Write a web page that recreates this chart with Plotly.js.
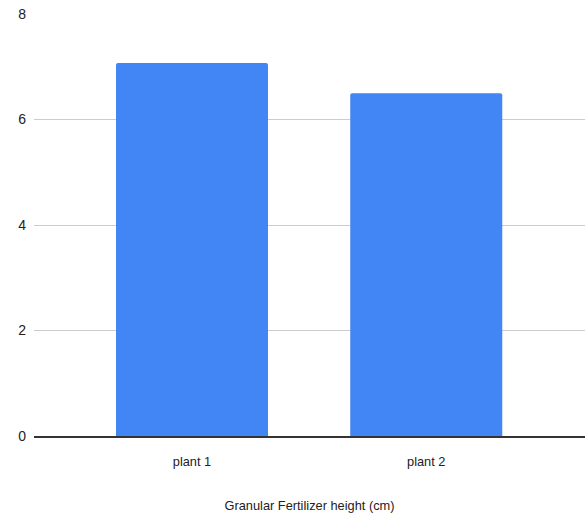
<!DOCTYPE html>
<html><head><meta charset="utf-8">
<script src="https://cdn.plot.ly/plotly-3.0.1.min.js"></script>
<style>html,body{margin:0;padding:0;background:#fff}#chart{width:585px;height:521px}</style>
</head><body><div id="chart"></div>
<script>
const categories = ["plant 1", "plant 2"];
const heights = [7.07, 6.5];
const yTicks = [0, 2, 4, 6, 8];
const xTitle = "Granular Fertilizer height (cm)";

const fontFam = '"Liberation Sans Narrow", "Arial Narrow", "Liberation Sans", Arial, sans-serif';

Plotly.newPlot('chart', [{
  type: 'bar',
  x: [0, 1],
  y: heights,
  width: 0.649,
  marker: {color: '#4285F4', cornerradius: 2},
  hoverinfo: 'none'
}], {
  width: 585, height: 521,
  margin: {l: 34, r: 0, t: 14, b: 85},
  paper_bgcolor: '#fff', plot_bgcolor: '#fff',
  showlegend: false,
  font: {family: fontFam, size: 13, color: '#222'},
  xaxis: {
    range: [-0.6745, 1.6777],
    tickmode: 'array', tickvals: [0, 1], ticktext: categories,
    showgrid: false, zeroline: false,
    showline: true, linecolor: '#333', linewidth: 1.5,
    ticks: '', ticklabelstandoff: 13,
    tickfont: {family: fontFam, size: 12.8, color: '#222'},
    title: {text: xTitle, font: {family: fontFam, size: 12.8, color: '#222'}, standoff: 33}
  },
  yaxis: {
    range: [0, 8],
    tickmode: 'array', tickvals: yTicks,
    showgrid: true, gridcolor: '#cccccc', gridwidth: 1,
    zeroline: false, showline: false, ticks: '',
    ticklabelstandoff: 7,
    tickfont: {family: fontFam, size: 14, color: '#222'}
  }
}, {staticPlot: true});
</script></body></html>
